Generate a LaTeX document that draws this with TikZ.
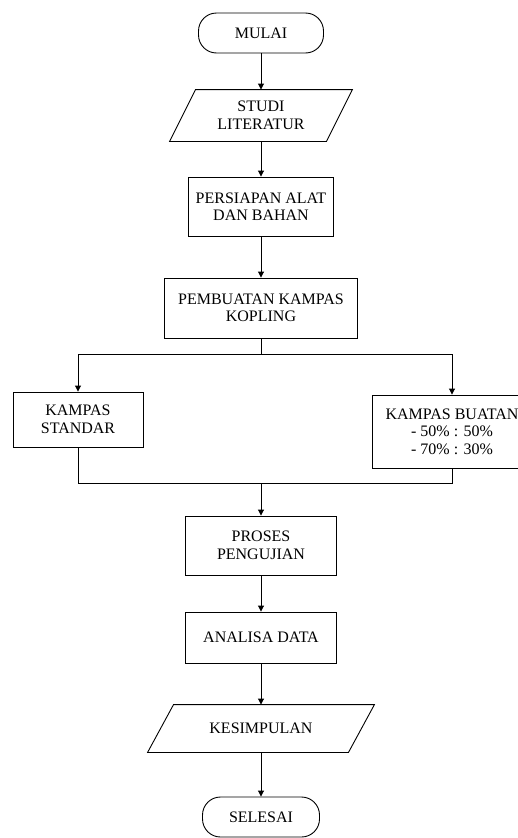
\documentclass[tikz,border=0pt]{standalone}
\usepackage{fontspec}
\setmainfont{Liberation Serif}
\usetikzlibrary{arrows.meta}
\begin{document}
\begin{tikzpicture}[x=1pt,y=-1pt,
  every node/.style={font=\fontsize{16}{17.5}\selectfont, align=center, inner sep=0pt, line width=0.9pt},
  term/.style={draw, rounded corners=18pt, minimum height=40pt},
  procbox/.style={draw, rectangle},
  iobox/.style={rectangle},
  conn/.style={line width=0.9pt},
  arr/.style={conn, -{Triangle[length=6pt,width=6pt]}}
]
\path[use as bounding box, clip] (0,0) rectangle (518,838);

\node[term, minimum width=125pt] (mulai) at (261,33) {MULAI};
\node[iobox, minimum width=156pt, minimum height=51pt] (studi) at (261,115.5) {STUDI\\LITERATUR};
\draw[conn] ([xshift=13pt]studi.north west) -- ([xshift=13pt]studi.north east)
  -- ([xshift=-13pt]studi.south east) -- ([xshift=-13pt]studi.south west) -- cycle;
\node[procbox, minimum width=145pt, minimum height=59pt] (siap) at (261,206.5) {PERSIAPAN ALAT\\DAN BAHAN};
\node[procbox, minimum width=193pt, minimum height=60pt] (buat) at (261,308) {PEMBUATAN KAMPAS\\KOPLING};
\node[procbox, minimum width=130pt, minimum height=55pt] (std) at (78,419.5) {KAMPAS\\STANDAR};
\node[procbox, minimum width=160pt, minimum height=73pt] (bua) at (452,431.5) {KAMPAS BUATAN\\- 50\% : 50\%\\- 70\% : 30\%};
\node[procbox, minimum width=151pt, minimum height=59pt] (uji) at (261,545.5) {PROSES\\PENGUJIAN};
\node[procbox, minimum width=151pt, minimum height=51pt] (ana) at (261,637.5) {ANALISA DATA};
\node[iobox, minimum width=200pt, minimum height=47pt] (kes) at (261,728.5) {KESIMPULAN};
\draw[conn] ([xshift=13pt]kes.north west) -- ([xshift=13pt]kes.north east)
  -- ([xshift=-13pt]kes.south east) -- ([xshift=-13pt]kes.south west) -- cycle;
\node[term, minimum width=117pt] (sel) at (261,817) {SELESAI};

\coordinate (split) at (261,354);
\coordinate (join) at (261,483);

\draw[arr] (mulai.south) -- (studi.north);
\draw[arr] (studi.south) -- (siap.north);
\draw[arr] (siap.south) -- (buat.north);
\draw[conn] (buat.south) -- (split);
\draw[arr] (split) -| (std.north);
\draw[arr] (split) -| (bua.north);
\draw[conn] (std.south) |- (join);
\draw[conn] (bua.south) |- (join);
\draw[arr] (join) -- (uji.north);
\draw[arr] (uji.south) -- (ana.north);
\draw[arr] (ana.south) -- (kes.north);
\draw[arr] (kes.south) -- (sel.north);
\end{tikzpicture}
\end{document}
